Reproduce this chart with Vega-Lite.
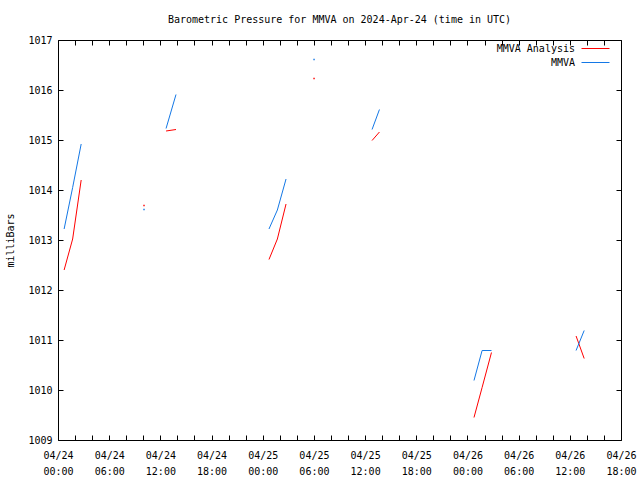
{
  "$schema": "https://vega.github.io/schema/vega-lite/v6.json",
  "width": 563,
  "height": 400,
  "autosize": {"type": "none"},
  "padding": {"left": 58, "top": 40, "right": 19, "bottom": 40},
  "background": "white",
  "title": {"text": "Barometric Pressure for MMVA on 2024-Apr-24 (time in UTC)", "font": "DejaVu Sans Mono", "fontSize": 10, "fontWeight": "normal", "color": "black", "offset": 10},
  "config": {
    "view": {"stroke": "black", "strokeWidth": 1},
    "axis": {"domain": false, "grid": false, "tickColor": "black", "tickSize": -5, "tickWidth": 1, "labelFont": "DejaVu Sans Mono", "labelFontSize": 10, "labelColor": "black", "titleFont": "DejaVu Sans Mono", "titleFontSize": 10, "titleFontWeight": "normal", "titleColor": "black"}
  },
  "data": {"values": [
    {"t": "2024-04-24T00:43:00Z", "series": "MMVA Analysis", "p": 1012.40, "seg": "s1"},
    {"t": "2024-04-24T01:43:00Z", "series": "MMVA Analysis", "p": 1013.02, "seg": "s1"},
    {"t": "2024-04-24T02:43:00Z", "series": "MMVA Analysis", "p": 1014.20, "seg": "s1"},
    {"t": "2024-04-24T00:43:00Z", "series": "MMVA", "p": 1013.22, "seg": "s1"},
    {"t": "2024-04-24T01:43:00Z", "series": "MMVA", "p": 1014.05, "seg": "s1"},
    {"t": "2024-04-24T02:43:00Z", "series": "MMVA", "p": 1014.92, "seg": "s1"},
    {"t": "2024-04-24T10:05:00Z", "series": "MMVA Analysis", "p": 1013.69, "seg": "s2"},
    {"t": "2024-04-24T10:05:00Z", "series": "MMVA", "p": 1013.61, "seg": "s2"},
    {"t": "2024-04-24T12:40:00Z", "series": "MMVA Analysis", "p": 1015.18, "seg": "s3"},
    {"t": "2024-04-24T13:50:00Z", "series": "MMVA Analysis", "p": 1015.21, "seg": "s3"},
    {"t": "2024-04-24T12:40:00Z", "series": "MMVA", "p": 1015.23, "seg": "s3"},
    {"t": "2024-04-24T13:50:00Z", "series": "MMVA", "p": 1015.91, "seg": "s3"},
    {"t": "2024-04-25T00:44:00Z", "series": "MMVA Analysis", "p": 1012.61, "seg": "s4"},
    {"t": "2024-04-25T01:43:00Z", "series": "MMVA Analysis", "p": 1013.02, "seg": "s4"},
    {"t": "2024-04-25T02:44:00Z", "series": "MMVA Analysis", "p": 1013.72, "seg": "s4"},
    {"t": "2024-04-25T00:44:00Z", "series": "MMVA", "p": 1013.22, "seg": "s4"},
    {"t": "2024-04-25T01:43:00Z", "series": "MMVA", "p": 1013.60, "seg": "s4"},
    {"t": "2024-04-25T02:44:00Z", "series": "MMVA", "p": 1014.22, "seg": "s4"},
    {"t": "2024-04-25T06:01:00Z", "series": "MMVA Analysis", "p": 1016.23, "seg": "s5"},
    {"t": "2024-04-25T06:01:00Z", "series": "MMVA", "p": 1016.61, "seg": "s5"},
    {"t": "2024-04-25T12:49:00Z", "series": "MMVA Analysis", "p": 1014.99, "seg": "s6"},
    {"t": "2024-04-25T13:41:00Z", "series": "MMVA Analysis", "p": 1015.16, "seg": "s6"},
    {"t": "2024-04-25T12:49:00Z", "series": "MMVA", "p": 1015.21, "seg": "s6"},
    {"t": "2024-04-25T13:41:00Z", "series": "MMVA", "p": 1015.61, "seg": "s6"},
    {"t": "2024-04-26T00:46:00Z", "series": "MMVA Analysis", "p": 1009.45, "seg": "s7"},
    {"t": "2024-04-26T01:43:00Z", "series": "MMVA Analysis", "p": 1010.05, "seg": "s7"},
    {"t": "2024-04-26T02:49:00Z", "series": "MMVA Analysis", "p": 1010.75, "seg": "s7"},
    {"t": "2024-04-26T00:46:00Z", "series": "MMVA", "p": 1010.19, "seg": "s7"},
    {"t": "2024-04-26T01:43:00Z", "series": "MMVA", "p": 1010.79, "seg": "s7"},
    {"t": "2024-04-26T02:49:00Z", "series": "MMVA", "p": 1010.79, "seg": "s7"},
    {"t": "2024-04-26T12:44:00Z", "series": "MMVA Analysis", "p": 1011.08, "seg": "s8"},
    {"t": "2024-04-26T13:41:00Z", "series": "MMVA Analysis", "p": 1010.63, "seg": "s8"},
    {"t": "2024-04-26T12:44:00Z", "series": "MMVA", "p": 1010.79, "seg": "s8"},
    {"t": "2024-04-26T13:41:00Z", "series": "MMVA", "p": 1011.19, "seg": "s8"}
  ]},
  "layer": [
    {
      "mark": {"type": "line", "strokeWidth": 1},
      "encoding": {
        "x": {"field": "t", "type": "temporal",
          "scale": {"domain": [1713916800000, 1714154400000]},
          "axis": {"orient": "bottom", "title": null, "values": [1713916800000, 1713924000000, 1713931200000, 1713938400000, 1713945600000, 1713952800000, 1713960000000, 1713967200000, 1713974400000, 1713981600000, 1713988800000, 1713996000000, 1714003200000, 1714010400000, 1714017600000, 1714024800000, 1714032000000, 1714039200000, 1714046400000, 1714053600000, 1714060800000, 1714068000000, 1714075200000, 1714082400000, 1714089600000, 1714096800000, 1714104000000, 1714111200000, 1714118400000, 1714125600000, 1714132800000, 1714140000000, 1714147200000, 1714154400000], "labelExpr": "utchours(datum.value) % 6 == 0 ? [utcFormat(datum.value, '%m/%d'), utcFormat(datum.value, '%H:%M')] : ''", "labelPadding": 15, "labelLineHeight": 16, "labelAngle": 0, "labelOverlap": false, "labelFlush": false}},
        "y": {"field": "p", "type": "quantitative",
          "scale": {"domain": [1009, 1017], "zero": false, "nice": false},
          "axis": {"orient": "left", "values": [1009, 1010, 1011, 1012, 1013, 1014, 1015, 1016, 1017], "format": "d", "title": "milliBars", "labelPadding": 11, "titlePadding": 12}},
        "color": {"field": "series", "type": "nominal",
          "scale": {"domain": ["MMVA Analysis", "MMVA"], "range": ["#ff0000", "#1478e6"]},
          "legend": {"title": null, "orient": "none", "legendX": 532, "legendY": 3, "symbolType": "M-3,0H3", "symbolSize": 87, "symbolStrokeWidth": 1, "symbolFillColor": "transparent", "labelAlign": "right", "labelOffset": -26, "labelFont": "DejaVu Sans Mono", "labelFontSize": 10, "labelColor": "black", "rowPadding": 3, "padding": 0}},
        "detail": {"field": "seg"}
      }
    },
    {
      "transform": [{"filter": "datum.seg == 's2' || datum.seg == 's5'"}],
      "mark": {"type": "square", "size": 2, "opacity": 1},
      "encoding": {
        "x": {"field": "t", "type": "temporal",
          "scale": {"domain": [1713916800000, 1714154400000]},
          "axis": {"orient": "top", "title": null, "labels": false, "values": [1713916800000, 1713924000000, 1713931200000, 1713938400000, 1713945600000, 1713952800000, 1713960000000, 1713967200000, 1713974400000, 1713981600000, 1713988800000, 1713996000000, 1714003200000, 1714010400000, 1714017600000, 1714024800000, 1714032000000, 1714039200000, 1714046400000, 1714053600000, 1714060800000, 1714068000000, 1714075200000, 1714082400000, 1714089600000, 1714096800000, 1714104000000, 1714111200000, 1714118400000, 1714125600000, 1714132800000, 1714140000000, 1714147200000, 1714154400000]}},
        "y": {"field": "p", "type": "quantitative",
          "scale": {"domain": [1009, 1017], "zero": false, "nice": false},
          "axis": {"orient": "right", "title": null, "labels": false, "values": [1009, 1010, 1011, 1012, 1013, 1014, 1015, 1016, 1017]}},
        "color": {"field": "series", "type": "nominal",
          "scale": {"domain": ["MMVA Analysis", "MMVA"], "range": ["#ff0000", "#1478e6"]},
          "legend": null}
      }
    }
  ],
  "resolve": {"axis": {"x": "independent", "y": "independent"}}
}
